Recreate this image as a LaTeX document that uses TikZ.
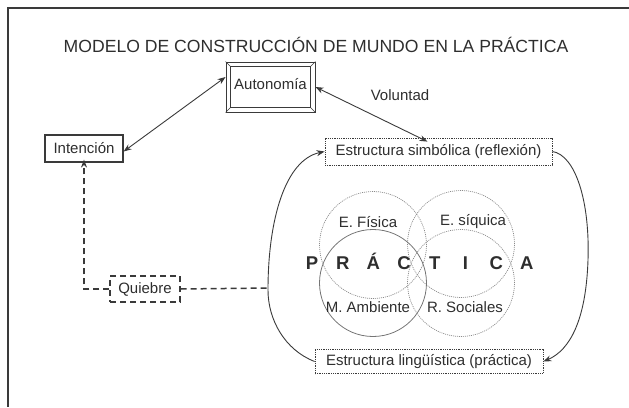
\documentclass[tikz,border=0pt]{standalone}
\usepackage{fontspec}
\setmainfont{Liberation Sans}
\usetikzlibrary{arrows.meta}
\definecolor{ink}{HTML}{2E2E2E}
\definecolor{lin}{HTML}{3A3A3A}
\definecolor{circ}{HTML}{8A8A8A}
\begin{document}
\begin{tikzpicture}[x=1pt,y=-1pt,
  font=\fontsize{15}{17}\selectfont, text=ink,
  tipb/.style={-{Stealth[length=8pt,width=6pt]}},
  tipboth/.style={{Stealth[length=8pt,width=6pt]}-{Stealth[length=8pt,width=6pt]}},
  plainbox/.style={draw=lin, line width=1.2pt, inner sep=0pt},
  dotbox/.style={draw=lin, line width=0.8pt, dash pattern=on 0.9pt off 0.9pt, inner sep=0pt},
  dashbox/.style={draw=lin, line width=1.4pt, dash pattern=on 6pt off 4pt, inner sep=0pt},
  dashline/.style={draw=lin, line width=1.5pt, dash pattern=on 6pt off 4pt},
  conn/.style={draw=lin, line width=0.9pt},
  letter/.style={font=\fontsize{18.5}{20}\selectfont\bfseries, text=ink, anchor=base, inner sep=0pt},
  dotcirc/.style={draw=circ, line width=0.7pt, dash pattern=on 1pt off 1pt, circle, minimum size=107pt, inner sep=0pt},
  solcirc/.style={draw=circ!85!black, line width=0.8pt, circle, minimum size=107pt, inner sep=0pt}]
\useasboundingbox (0,0) rectangle (629,407);
% frame
\draw[lin, line width=1.1pt] (629,8) -- (8,8) -- (8,407);
% title
\node[font=\fontsize{17.6}{20}\selectfont] (title) at (316,45) {MODELO DE CONSTRUCCIÓN DE MUNDO EN LA PRÁCTICA};
% circles
\node[dotcirc] (c1) at (373,245) {};
\node[dotcirc] (c2) at (461,244) {};
\node[solcirc] (c3) at (373,283) {};
\node[dotcirc] (c4) at (461,283) {};
\node (l1) at (368,222) {E. Física};
\node (l2) at (473,222) {E. síquica};
\node (l3) at (368,307) {M. Ambiente};
\node (l4) at (465,307) {R. Sociales};
\foreach \ch [count=\i from 0] in {P,R,Á,C,T,I,C,A}
  \node[letter] (p\i) at ({312+30.7*\i},269.5) {\ch};
% boxes
\node[draw=lin, line width=0.9pt, minimum width=89pt, minimum height=50pt, inner sep=0pt] (auto) at (270.5,87) {};
\node (autotext) at (270.5,84) {Autonomía};
\draw[lin, line width=0.9pt] ([shift={(5,5)}]auto.north west) rectangle ([shift={(-5,-5)}]auto.south east);
\draw[lin, line width=0.6pt] (auto.north west) -- ([shift={(5,5)}]auto.north west)
  (auto.north east) -- ([shift={(-5,5)}]auto.north east)
  (auto.south west) -- ([shift={(5,-5)}]auto.south west)
  (auto.south east) -- ([shift={(-5,-5)}]auto.south east);
\node[plainbox, minimum width=78pt, minimum height=27pt] (inten) at (84,148.5) {Intención};
\node[dotbox, minimum width=227pt, minimum height=27pt] (simb) at (438.5,151.5) {Estructura simbólica (reflexión)};
\node[dotbox, minimum width=228pt, minimum height=24pt] (ling) at (429,361.5) {Estructura lingüística (práctica)};
\node[dashbox, minimum width=70pt, minimum height=26pt] (quie) at (145,289) {Quiebre};
\node (vol) at (400,95) {Voluntad};
% connectors
\draw[conn, tipboth] ([yshift=-3]inten.east) -- ([yshift=10]auto.west);
\draw[conn, tipboth] (auto.east) -- ([xshift=-11,yshift=-4]simb.north);
\draw[conn, tipb] (ling.west) .. controls (285,350) and (268,320) .. (268,290)
  .. controls (268,220) and (285,160) .. (simb.west);
\draw[conn, tipb] (simb.east) .. controls (575,155) and (590,200) .. (588,260)
  .. controls (586,320) and (570,350) .. (ling.east);
\coordinate (qend) at (268,288);
\draw[dashline] (quie.east) -- (qend);
\draw[dashline, -{Stealth[length=8pt,width=6pt]}] (quie.west) -| ([yshift=3]inten.south);
\end{tikzpicture}
\end{document}
